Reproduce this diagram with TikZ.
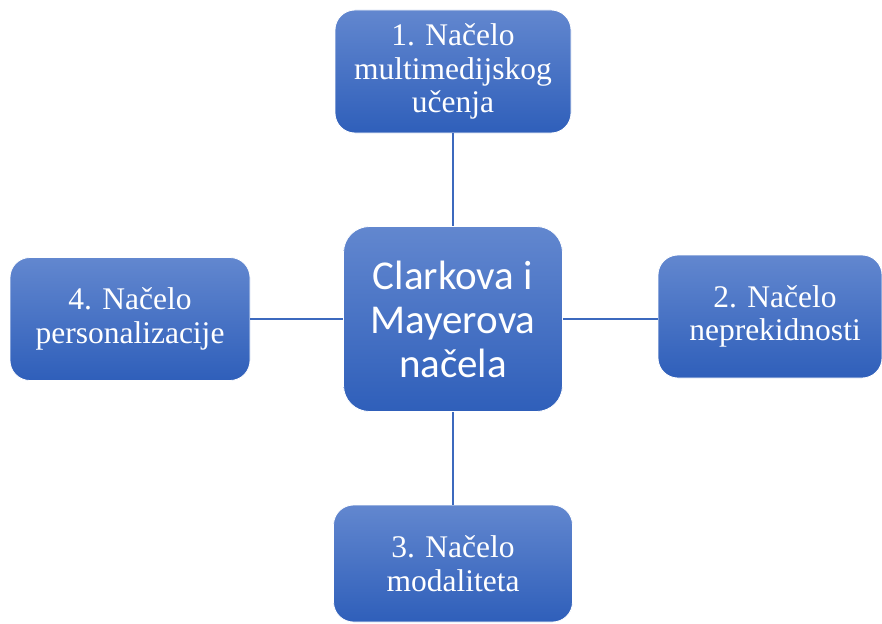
\documentclass[tikz,border=0pt]{standalone}
\usepackage{fontspec}
\newfontfamily\boxfont{Liberation Serif}
\newfontfamily\hubfont{Carlito}
\usepackage{tikz}
\usetikzlibrary{positioning}
\definecolor{boxtop}{RGB}{98,135,207}
\definecolor{boxbottom}{RGB}{47,95,186}
\definecolor{linkblue}{RGB}{60,105,190}

\begin{document}
\begin{tikzpicture}[x=1pt, y=-1pt,
	principle/.style={rectangle, rounded corners=20pt, top color=boxtop, bottom color=boxbottom,
		draw=white, line width=0.8pt, text=white, align=center, inner sep=0pt,
		font=\boxfont\fontsize{31.5}{33.5}\selectfont},
	hub/.style={principle, rounded corners=26pt, font=\hubfont\fontsize{41}{44}\selectfont},
	link/.style={draw=linkblue, line width=1.2pt}]

\useasboundingbox (0,0) rectangle (882,623);

% centre box
\node[hub, minimum width=219pt, minimum height=185pt] (hub) at (453,319) {Clarkova i\\Mayerova\\načela};

% the four principles
\node[principle, minimum width=236pt, minimum height=123pt] (first)  at (453,71.5)  {1. Načelo\\multimedijskog\\učenja};
\node[principle, minimum width=224pt, minimum height=123pt] (second) at (770,316.5) {\hspace*{10pt}2. Načelo\\\hspace*{10pt}neprekidnosti};
\node[principle, minimum width=239pt, minimum height=117pt] (third)  at (453,563.5) {3. Načelo\\modaliteta};
\node[principle, minimum width=240pt, minimum height=123pt] (fourth) at (130,319)   {4. Načelo\\personalizacije};

% links
\draw[link] (first) -- (hub);
\draw[link] (hub.east) -- (hub.east -| second.west);
\draw[link] (hub) -- (third);
\draw[link] (fourth) -- (hub);

\end{tikzpicture}
\end{document}
